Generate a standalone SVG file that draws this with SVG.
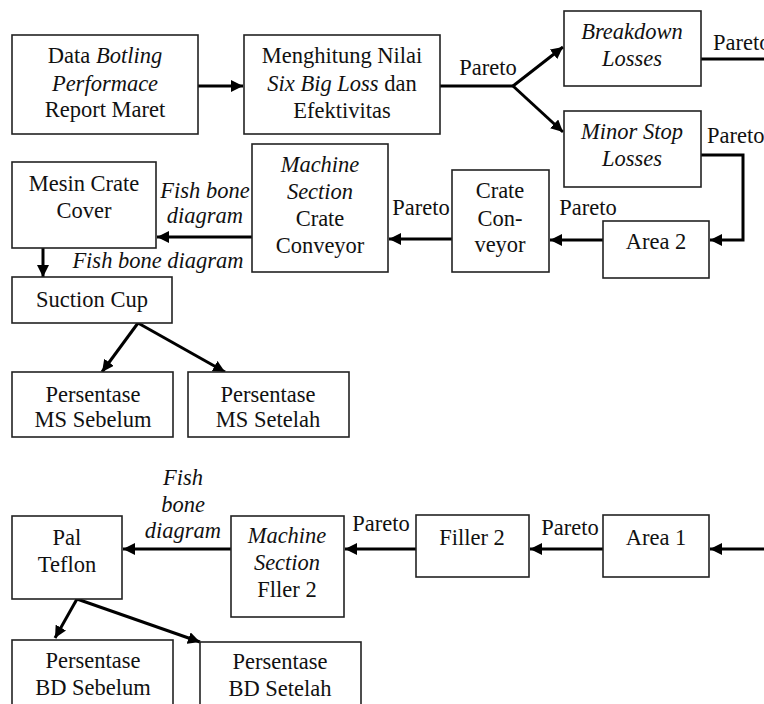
<svg xmlns="http://www.w3.org/2000/svg" width="764" height="704" viewBox="0 0 764 704">
<defs>
<style>
.box{fill:#fff;stroke:#222;stroke-width:1.6}
text{font-family:"Liberation Serif","Times New Roman",serif;font-size:22.5px;fill:#111;text-anchor:middle}
.i{font-style:italic}
.c{fill:none;stroke:#000;stroke-width:3}
</style>
<marker id="ah" markerUnits="userSpaceOnUse" markerWidth="14" markerHeight="12" refX="12" refY="6" orient="auto">
<path d="M0,0 L12,6 L0,12 Z" fill="#000"/>
</marker>
</defs>
<rect width="764" height="704" fill="#fff"/>

<g id="connectors">
<line class="c" x1="198" y1="86" x2="243" y2="86" marker-end="url(#ah)"/>
<polyline class="c" points="440,86 513,86"/>
<line class="c" x1="513" y1="86" x2="563" y2="47" marker-end="url(#ah)"/>
<line class="c" x1="513" y1="86" x2="563" y2="132" marker-end="url(#ah)"/>
<line class="c" x1="701" y1="59" x2="764" y2="59"/>
<polyline class="c" points="701,155 743,155 743,240 710,240" marker-end="url(#ah)"/>
<line class="c" x1="603" y1="240" x2="550" y2="240" marker-end="url(#ah)"/>
<line class="c" x1="455" y1="239" x2="389" y2="239" marker-end="url(#ah)"/>
<line class="c" x1="252" y1="237" x2="157" y2="237" marker-end="url(#ah)"/>
<line class="c" x1="43" y1="248" x2="43" y2="277" marker-end="url(#ah)"/>
<line class="c" x1="138" y1="323" x2="102" y2="372" marker-end="url(#ah)"/>
<line class="c" x1="138" y1="323" x2="225" y2="372" marker-end="url(#ah)"/>
<line class="c" x1="764" y1="549" x2="710" y2="549" marker-end="url(#ah)"/>
<line class="c" x1="603" y1="549" x2="530" y2="549" marker-end="url(#ah)"/>
<line class="c" x1="416" y1="549" x2="345" y2="549" marker-end="url(#ah)"/>
<line class="c" x1="231" y1="549" x2="123" y2="549" marker-end="url(#ah)"/>
<line class="c" x1="77" y1="599" x2="55" y2="638" marker-end="url(#ah)"/>
<line class="c" x1="77" y1="599" x2="200" y2="642" marker-end="url(#ah)"/>
</g>

<g id="labels">
<text x="488" y="75">Pareto</text>
<text x="713" y="50" style="text-anchor:start">Pareto</text>
<text x="707" y="143" style="text-anchor:start">Pareto</text>
<text x="588" y="215">Pareto</text>
<text x="421" y="215">Pareto</text>
<text class="i" x="205" y="198">Fish bone</text>
<text class="i" x="205" y="223">diagram</text>
<text class="i" x="158" y="268">Fish bone diagram</text>
<text class="i" x="183" y="485">Fish</text>
<text class="i" x="183" y="512">bone</text>
<text class="i" x="183" y="538">diagram</text>
<text x="381" y="531">Pareto</text>
<text x="570" y="535">Pareto</text>
</g>

<g id="data">
<rect class="box" x="12" y="35" width="186" height="99"/>
<text x="105" y="63">Data <tspan class="i">Botling</tspan></text>
<text class="i" x="105" y="91">Performace</text>
<text x="105" y="117">Report Maret</text>
</g>
<g id="menghitung">
<rect class="box" x="244" y="35" width="196" height="99"/>
<text x="342" y="63">Menghitung Nilai</text>
<text x="342" y="91"><tspan class="i">Six Big Loss</tspan> dan</text>
<text x="342" y="118">Efektivitas</text>
</g>
<g id="breakdown">
<rect class="box" x="564" y="11" width="137" height="75"/>
<text class="i" x="632" y="39">Breakdown</text>
<text class="i" x="632" y="66">Losses</text>
</g>
<g id="minorstop">
<rect class="box" x="564" y="111" width="137" height="76"/>
<text class="i" x="632" y="139">Minor Stop</text>
<text class="i" x="632" y="166">Losses</text>
</g>
<g id="area2">
<rect class="box" x="603" y="221" width="106" height="57"/>
<text x="656" y="249">Area 2</text>
</g>
<g id="crateconveyor">
<rect class="box" x="452" y="170" width="97" height="102"/>
<text x="500" y="198">Crate</text>
<text x="500" y="226">Con-</text>
<text x="500" y="252">veyor</text>
</g>
<g id="mscrate">
<rect class="box" x="252" y="144" width="136" height="128"/>
<text class="i" x="320" y="172">Machine</text>
<text class="i" x="320" y="199">Section</text>
<text x="320" y="226">Crate</text>
<text x="320" y="253">Conveyor</text>
</g>
<g id="mesincrate">
<rect class="box" x="12" y="162" width="144" height="86"/>
<text x="84" y="191">Mesin Crate</text>
<text x="84" y="218">Cover</text>
</g>
<g id="suctioncup">
<rect class="box" x="12" y="277" width="160" height="46"/>
<text x="92" y="307">Suction Cup</text>
</g>
<g id="mssebelum">
<rect class="box" x="12" y="372" width="161" height="65"/>
<text x="93" y="402">Persentase</text>
<text x="93" y="427">MS Sebelum</text>
</g>
<g id="mssetelah">
<rect class="box" x="188" y="372" width="161" height="65"/>
<text x="268" y="402">Persentase</text>
<text x="268" y="427">MS Setelah</text>
</g>
<g id="area1">
<rect class="box" x="603" y="515" width="106" height="62"/>
<text x="656" y="545">Area 1</text>
</g>
<g id="filler2">
<rect class="box" x="416" y="515" width="113" height="62"/>
<text x="472" y="545">Filler 2</text>
</g>
<g id="msfiller">
<rect class="box" x="231" y="516" width="113" height="101"/>
<text class="i" x="287" y="543">Machine</text>
<text class="i" x="287" y="570">Section</text>
<text x="287" y="597">Fller 2</text>
</g>
<g id="palteflon">
<rect class="box" x="12" y="516" width="110" height="83"/>
<text x="67" y="545">Pal</text>
<text x="67" y="572">Teflon</text>
</g>
<g id="bdsebelum">
<rect class="box" x="12" y="640" width="161" height="70"/>
<text x="93" y="668">Persentase</text>
<text x="93" y="695">BD Sebelum</text>
</g>
<g id="bdsetelah">
<rect class="box" x="200" y="642" width="161" height="68"/>
<text x="280" y="669">Persentase</text>
<text x="280" y="696">BD Setelah</text>
</g>
</svg>
